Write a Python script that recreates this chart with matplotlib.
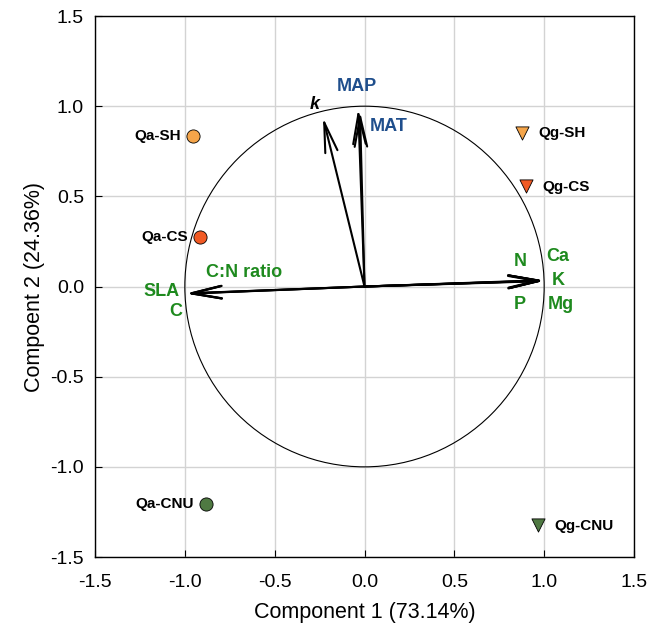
import numpy as np
import matplotlib.pyplot as plt
from matplotlib.patches import Circle

plt.rcParams['font.family'] = ['Liberation Sans', 'DejaVu Sans']

# sample scores
samples = ['Qa-SH', 'Qa-CS', 'Qa-CNU', 'Qg-SH', 'Qg-CS', 'Qg-CNU']
pc1 = [-0.954, -0.915, -0.882, 0.876, 0.899, 0.965]
pc2 = [0.832, 0.277, -1.204, 0.854, 0.555, -1.325]
colors = ['#F5A54A', '#F15A24', '#4F7942', '#F5A54A', '#F15A24', '#4F7942']
markers = ['o', 'o', 'o', 'v', 'v', 'v']

# variable loadings
variables = ['k', 'MAP', 'MAT', 'N', 'Ca', 'K', 'P', 'Mg', 'SLA', 'C', 'C:N ratio']
load1 = [-0.231, -0.035, -0.025, 0.995, 1.0, 1.0, 0.995, 1.0, -0.993, -0.99, -0.99]
load2 = [0.937, 0.985, 0.97, 0.035, 0.033, 0.033, 0.03, 0.032, -0.039, -0.04, -0.038]

# label placement for variables (text position, colour, style)
var_text = {
    'k': (-0.275, 1.01, 'black', 'italic'),
    'MAP': (-0.04, 1.11, '#1F4E8C', 'normal'),
    'MAT': (0.135, 0.89, '#1F4E8C', 'normal'),
    'N': (0.866, 0.14, '#1E8A1E', 'normal'),
    'Ca': (1.075, 0.165, '#1E8A1E', 'normal'),
    'K': (1.08, 0.035, '#1E8A1E', 'normal'),
    'P': (0.866, -0.10, '#1E8A1E', 'normal'),
    'Mg': (1.095, -0.10, '#1E8A1E', 'normal'),
    'SLA': (-1.13, -0.03, '#1E8A1E', 'normal'),
    'C': (-1.05, -0.14, '#1E8A1E', 'normal'),
    'C:N ratio': (-0.67, 0.075, '#1E8A1E', 'normal'),
}

fig = plt.figure(figsize=(6.52, 6.26), dpi=100)
ax = fig.add_axes([0.1457, 0.1102, 0.8267, 0.8642])

ax.set_xlim(-1.5, 1.5)
ax.set_ylim(-1.5, 1.5)
ax.set_xticks(np.arange(-1.5, 1.51, 0.5))
ax.set_yticks(np.arange(-1.5, 1.51, 0.5))
ax.xaxis.set_major_formatter(plt.FormatStrFormatter('%.1f'))
ax.yaxis.set_major_formatter(plt.FormatStrFormatter('%.1f'))
ax.grid(True, color='#d3d3d3', lw=1)
ax.set_axisbelow(True)
ax.tick_params(direction='in', length=5, labelsize=14)
ax.tick_params(axis='x', pad=12)
ax.tick_params(axis='y', pad=8)
for s in ax.spines.values():
    s.set_linewidth(1.0)

ax.add_patch(Circle((0, 0), 1.0, fill=False, ec='black', lw=0.8, zorder=2))

for i, v in enumerate(variables):
    ax.annotate('', xy=(load1[i], load2[i]), xytext=(0, 0),
                arrowprops=dict(arrowstyle='->,head_length=1.2,head_width=0.25',
                                lw=1.5, color='black', mutation_scale=18,
                                shrinkA=0, shrinkB=0), zorder=3)
    tx, ty, c, st = var_text[v]
    ax.text(tx, ty, v, color=c, fontsize=13, fontweight='bold', style=st,
            ha='center', va='center', zorder=4)

for i, s in enumerate(samples):
    ax.scatter(pc1[i], pc2[i], s=90, c=colors[i], marker=markers[i],
               edgecolors='black', linewidths=0.6, zorder=5)
    if pc1[i] < 0:
        ax.text(pc1[i] - 0.07, pc2[i], s, ha='right', va='center',
                fontsize=11, fontweight='bold', zorder=5)
    else:
        ax.text(pc1[i] + 0.09, pc2[i] - 0.005, s, ha='left', va='center',
                fontsize=11, fontweight='bold', zorder=5)

ax.set_xlabel('Component 1 (73.14%)', fontsize=15.5, labelpad=8)
ax.set_ylabel('Compoent 2 (24.36%)', fontsize=15.5, labelpad=4)

fig.savefig('out.png', dpi=100)
